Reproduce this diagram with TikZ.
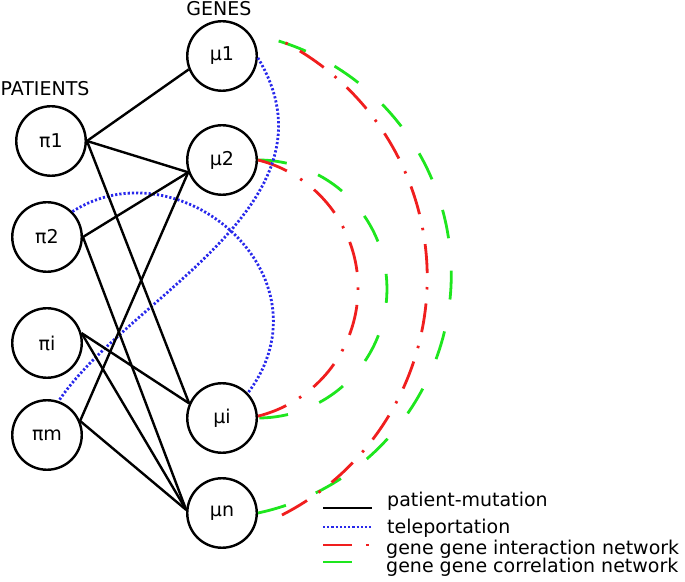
\documentclass[tikz,border=0pt]{standalone}
\usepackage{fontspec}
\setmainfont{DejaVu Sans}
\definecolor{cblue}{RGB}{40,40,235}
\definecolor{cred}{RGB}{240,30,30}
\definecolor{cgreen}{RGB}{30,230,30}
\begin{document}
\begin{tikzpicture}[x=1pt,y=1pt,
  font=\fontsize{19}{22}\selectfont,
  vert/.style={circle, draw, line width=2.4pt, minimum size=69.5pt, inner sep=0pt},
  pmut/.style={line width=2.4pt},
  tele/.style={cblue, line width=2.8pt, dash pattern=on 2.2pt off 2pt},
  inter/.style={cred, line width=2.8pt, dash pattern=on 29pt off 14pt on 2.5pt off 14pt},
  corr/.style={cgreen, line width=2.8pt, dash pattern=on 29pt off 30pt},
  lbl/.style={anchor=base west, inner sep=0pt}]
\useasboundingbox (0,0) rectangle (685,581);

% nodes
\node[vert] (mu1) at (222,525) {μ1};
\node[vert] (mu2) at (222,421) {μ2};
\node[vert] (mui) at (222,163) {μi};
\node[vert] (mun) at (222,68) {μn};
\node[vert] (pi1) at (51,440) {π1};
\node[vert] (pi2) at (47,344) {π2};
\node[vert] (pii) at (47,238) {πi};
\node[vert] (pim) at (47,146) {πm};

\node (genes) at (219,572) {GENES};
\node (patients) at (45,492) {PATIENTS};

% gene-gene arcs
\draw[corr, dash pattern=on 29pt off 33.5pt] (mu2.east) arc[start angle=90, end angle=-90, radius=129pt];
\draw[inter, dash pattern=on 31pt off 15.5pt on 2.5pt off 15pt] (mu2.east) arc[start angle=76, end angle=-76, radius=132pt];
\draw[corr, dash pattern=on 29pt off 32.4pt] (mun.east) arc[start angle=-78, end angle=73, radius=244pt];
\coordinate (rbs) at ([xshift=24pt,yshift=-2pt]mun.east);
\draw[inter] (rbs) arc[start angle=-63, end angle=65, radius=266pt];

% teleportation
\draw[tele] (mu1.-3) .. controls (346,377) and (128,284) .. (pim.71);
\draw[tele] (pi2.45) .. controls (180,438) and (335,304) .. (mui.44);

% patient-mutation edges
\draw[pmut] (pi1.0) -- (mu1.202);
\draw[pmut] (pi1.0) -- (mu2.200);
\draw[pmut] (pi1.0) -- (mui.156);
\draw[pmut] (pi2.0) -- (mu2.200);
\draw[pmut] (pi2.0) -- (mun.175);
\draw[pmut] (pii.16) -- (mui.156);
\draw[pmut] (pii.16) -- (mun.175);
\draw[pmut] (pim.23) -- (mu2.200);
\draw[pmut] (pim.23) -- (mun.175);

% legend
\coordinate (la1) at (323,73); \coordinate (lb1) at (372,73);
\coordinate (la2) at (323,54); \coordinate (lb2) at (372,54);
\coordinate (la3) at (323,36); \coordinate (lb3) at (372,36);
\coordinate (la4) at (323,19); \coordinate (lb4) at (372,19);
\draw[pmut] (la1) -- (lb1);
\draw[tele] (la2) -- (lb2);
\draw[inter] (la3) -- (lb3);
\draw[corr] (la4) -- (lb4);
\node[lbl] (t1) at (387,75) {patient-mutation};
\node[lbl] (t2) at (387,48) {teleportation};
\node[lbl] (t3) at (386,27) {gene gene interaction network};
\node[lbl] (t4) at (386,9) {gene gene correlation network};
\end{tikzpicture}
\end{document}
